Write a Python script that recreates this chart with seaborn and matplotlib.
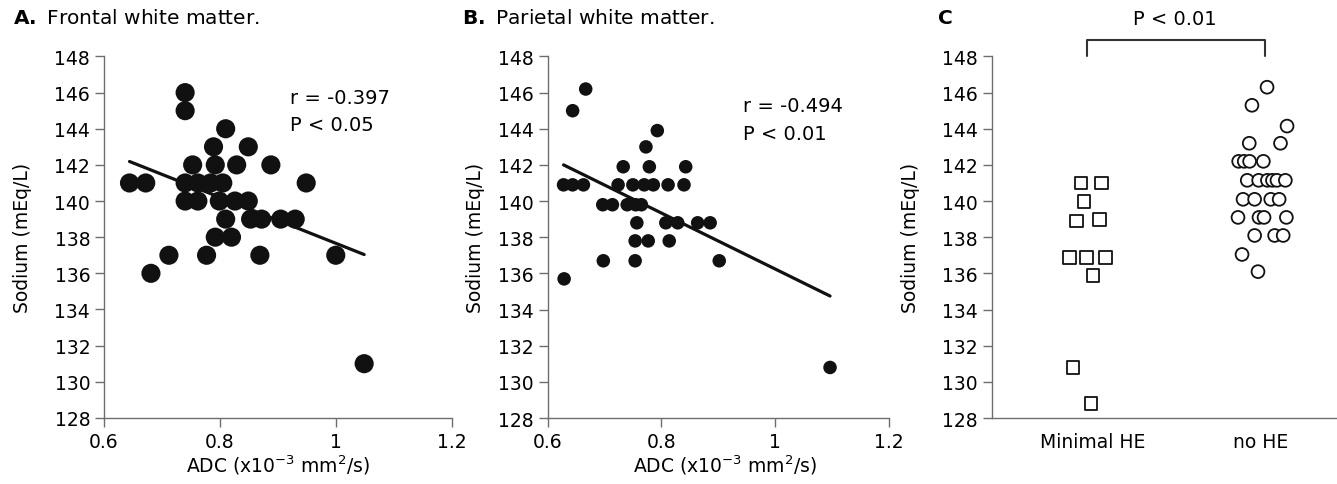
import numpy as np
import pandas as pd
import matplotlib
matplotlib.use("Agg")
import matplotlib.pyplot as plt
import seaborn as sns

# Panel A: frontal white matter (ADC vs sodium)
frontal_adc = [0.644, 0.672, 0.681, 0.712, 0.740, 0.740, 0.740, 0.740, 0.753, 0.762,
               0.762, 0.777, 0.789, 0.792, 0.792, 0.784, 0.805, 0.799, 0.810, 0.810,
               0.820, 0.829, 0.826, 0.849, 0.849, 0.853, 0.872, 0.869, 0.888, 0.905,
               0.930, 0.949, 1.000, 1.049]
frontal_na = [141, 141, 136, 137, 146, 145, 141, 140, 142, 141,
              140, 137, 143, 142, 138, 141, 141, 140, 144, 139,
              138, 142, 140, 140, 143, 139, 139, 137, 142, 139,
              139, 141, 137, 131]

# Panel B: parietal white matter
parietal_adc = [0.628, 0.629, 0.644, 0.644, 0.667, 0.663, 0.697, 0.698, 0.714, 0.724,
                0.733, 0.740, 0.750, 0.755, 0.765, 0.757, 0.754, 0.754, 0.773, 0.770,
                0.779, 0.786, 0.777, 0.793, 0.812, 0.808, 0.814, 0.829, 0.840, 0.843,
                0.864, 0.886, 0.902, 1.097]
parietal_na = [140.9, 135.7, 145.0, 140.9, 146.2, 140.9, 139.8, 136.7, 139.8, 140.9,
               141.9, 139.8, 140.9, 139.8, 139.8, 138.8, 137.8, 136.7, 143.0, 140.9,
               141.9, 140.9, 137.8, 143.9, 140.9, 138.8, 137.8, 138.8, 140.9, 141.9,
               138.8, 138.8, 136.7, 130.8]

# Panel C: sodium by group (jitter)
groups = ["Minimal HE", "no HE"]
minimal_na = [141.0, 141.0, 140.0, 138.9, 139.0, 136.9, 136.9, 136.9, 135.9, 130.8, 128.8]
minimal_jitter = [-0.068, 0.052, -0.050, -0.094, 0.040, -0.137, -0.036, 0.080, 0.004, -0.116, -0.008]
nohe_na = [146.3, 145.3, 144.15, 143.2, 143.2, 142.2, 142.2, 142.2, 142.2,
           141.15, 141.15, 141.15, 141.15, 141.15, 141.15,
           140.1, 140.1, 140.1, 140.1, 139.1, 139.1, 139.1, 139.1,
           138.1, 138.1, 138.1, 137.05, 136.1]
nohe_jitter = [0.040, -0.050, 0.159, -0.066, 0.120, -0.129, -0.096, -0.064, 0.018,
               -0.078, -0.010, 0.042, 0.072, 0.099, 0.149,
               -0.103, -0.034, 0.062, 0.112, -0.133, -0.008, 0.022, 0.155,
               -0.034, 0.085, 0.136, -0.109, -0.014]

sns.set_theme(style="ticks")
plt.rcParams["font.family"] = ["DejaVu Sans"]
plt.rcParams["mathtext.default"] = "regular"
plt.rcParams["mathtext.fontset"] = "dejavusans"
plt.rcParams["text.color"] = "black"
plt.rcParams["axes.labelcolor"] = "black"

spine_col = "#6e6e6e"
TICK_FS = 13.5
LABEL_FS = 13.5

fig = plt.figure(figsize=(13.37, 4.85), dpi=100)
axA = fig.add_axes([0.0778, 0.1363, 0.2600, 0.7452])
axB = fig.add_axes([0.4096, 0.1359, 0.2550, 0.7456])
axC = fig.add_axes([0.7417, 0.1359, 0.2600, 0.7456])


def style_axis(ax):
    sns.despine(ax=ax)
    for s in ["left", "bottom"]:
        ax.spines[s].set_color(spine_col)
        ax.spines[s].set_linewidth(1.0)
    ax.tick_params(axis="both", which="major", length=6.5, width=1.0, color=spine_col,
                   labelsize=TICK_FS, labelcolor="black", direction="out")
    ax.set_ylim(128, 148)
    ax.set_yticks(np.arange(128, 149, 2))
    ax.set_ylabel("Sodium (mEq/L)", fontsize=LABEL_FS, color="black")


# ---- Panel A ----
dfA = pd.DataFrame({"adc": frontal_adc, "na": frontal_na})
sns.scatterplot(data=dfA, x="adc", y="na", ax=axA, s=190, color="#111111",
                edgecolor="none", linewidth=0)
sns.regplot(data=dfA, x="adc", y="na", ax=axA, scatter=False, ci=None, truncate=True,
            line_kws={"color": "#111111", "lw": 2.3})
style_axis(axA)
axA.set_xlim(0.6, 1.2)
axA.set_xticks([0.6, 0.8, 1.0, 1.2])
axA.set_xticklabels(["0.6", "0.8", "1", "1.2"])
axA.set_xlabel("ADC (x10$^{-3}$ mm$^{2}$/s)", fontsize=LABEL_FS)
axA.xaxis.set_label_coords(0.5, -0.095)
axA.yaxis.set_label_coords(-0.207, 0.5)
axA.text(0.921, 145.73, "r = -0.397", fontsize=14, va="center", ha="left")
axA.text(0.921, 144.25, "P < 0.05", fontsize=14, va="center", ha="left")

# ---- Panel B ----
dfB = pd.DataFrame({"adc": parietal_adc, "na": parietal_na})
sns.scatterplot(data=dfB, x="adc", y="na", ax=axB, s=95, color="#111111",
                edgecolor="none", linewidth=0)
sns.regplot(data=dfB, x="adc", y="na", ax=axB, scatter=False, ci=None, truncate=True,
            line_kws={"color": "#111111", "lw": 2.3})
style_axis(axB)
axB.set_xlim(0.6, 1.2)
axB.set_xticks([0.6, 0.8, 1.0, 1.2])
axB.set_xticklabels(["0.6", "0.8", "1", "1.2"])
axB.set_xlabel("ADC (x10$^{-3}$ mm$^{2}$/s)", fontsize=LABEL_FS)
axB.xaxis.set_label_coords(0.52, -0.095)
axB.yaxis.set_label_coords(-0.184, 0.5)
axB.text(0.944, 145.3, "r = -0.494", fontsize=14, va="center", ha="left")
axB.text(0.944, 143.75, "P < 0.01", fontsize=14, va="center", ha="left")

# ---- Panel C ----
dfC = pd.concat([
    pd.DataFrame({"pos": 0 + np.array(minimal_jitter), "na": minimal_na, "group": groups[0]}),
    pd.DataFrame({"pos": 1 + np.array(nohe_jitter), "na": nohe_na, "group": groups[1]}),
])
sns.scatterplot(data=dfC, x="pos", y="na", style="group", markers={groups[0]: "s", groups[1]: "o"},
                ax=axC, s=85, facecolor="white", edgecolor="#111111", linewidth=1.3,
                legend=False)
style_axis(axC)
axC.set_xlim(-0.6, 1.47)
axC.set_xticks([0, 1])
axC.set_xticklabels(groups)
axC.tick_params(axis="x", length=0, pad=10)
axC.set_xlabel("")
axC.yaxis.set_label_coords(-0.205, 0.5)
axC.plot([-0.035, -0.035, 1.03, 1.03], [148.0, 148.9, 148.9, 148.0], color="#333333",
         lw=1.5, clip_on=False)
axC.text(0.49, 150.1, "P < 0.01", fontsize=14, ha="center", va="center")

# panel titles
fig.text(13 / 1337, 1 - 18 / 485, r"$\mathbf{A.}$ Frontal white matter.", fontsize=14.5, va="center")
fig.text(462 / 1337, 1 - 18 / 485, r"$\mathbf{B.}$ Parietal white matter.", fontsize=14.5, va="center")
fig.text(937 / 1337, 1 - 18 / 485, r"$\mathbf{C}$", fontsize=14.5, va="center")

fig.savefig("out.png", dpi=100)
